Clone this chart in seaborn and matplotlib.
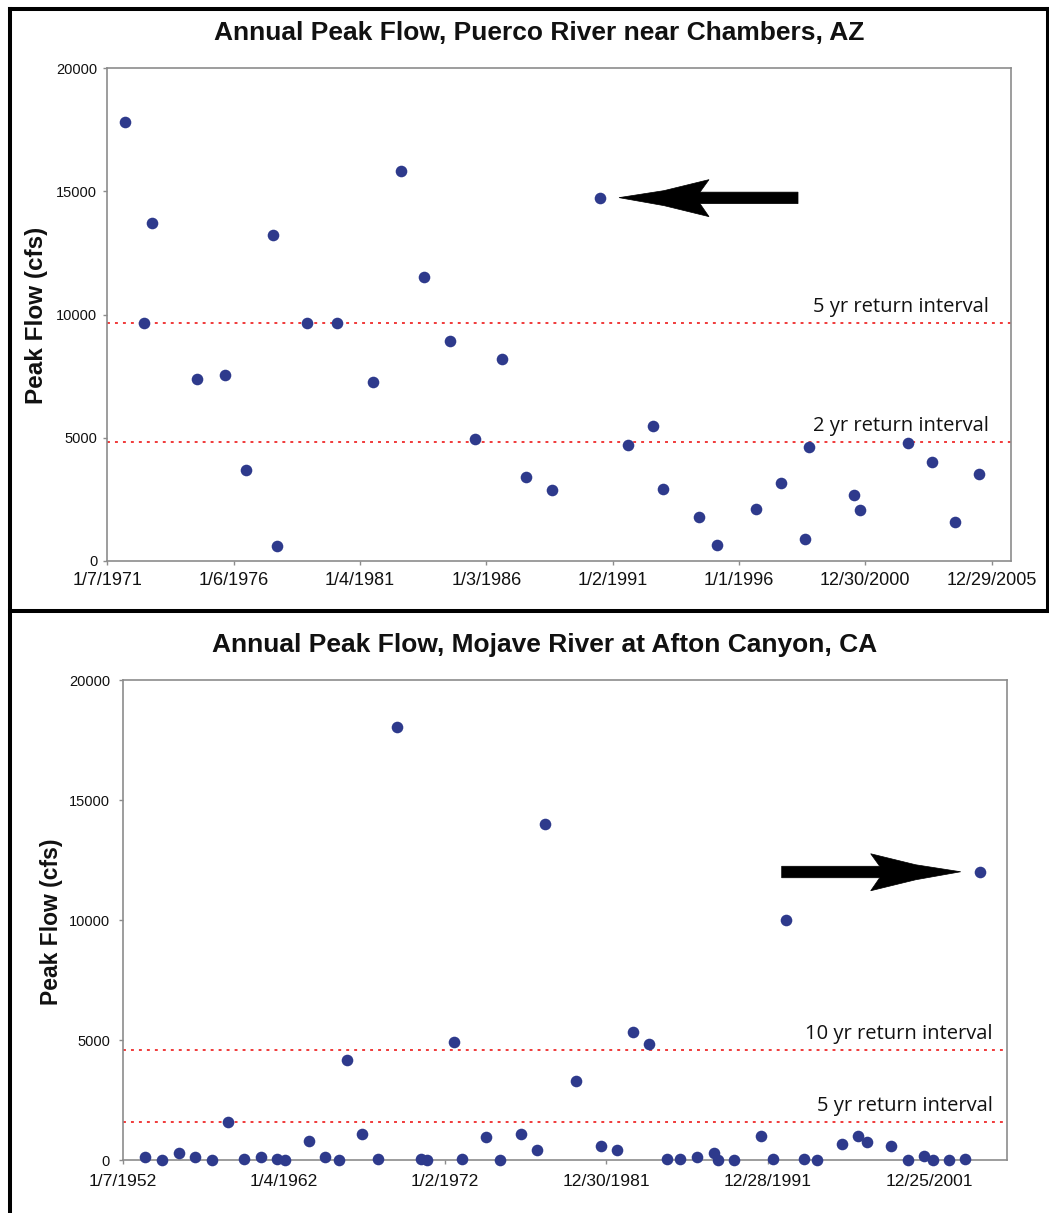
import numpy as np
import pandas as pd
import matplotlib
matplotlib.use("Agg")
import matplotlib.pyplot as plt
import matplotlib.dates as mdates
import matplotlib.transforms as mtransforms
from matplotlib.patches import Polygon
from matplotlib.lines import Line2D
import seaborn as sns

# ---------------- data ----------------
puerco_title = "Annual Peak Flow, Puerco River near Chambers, AZ"
puerco_dates = ["1971-09-20", "1972-06-16", "1972-10-09", "1974-07-21", "1975-08-30",
                "1976-07-03", "1977-07-24", "1977-09-20", "1978-12-06", "1980-02-04",
                "1981-07-08", "1982-08-17", "1983-07-24", "1984-07-25", "1985-07-25",
                "1986-08-14", "1987-07-27", "1988-08-09", "1990-07-04", "1991-08-11",
                "1992-08-11", "1992-12-25", "1994-05-28", "1995-02-21", "1996-08-29",
                "1997-08-30", "1998-08-13", "1998-10-10", "2000-07-25", "2000-10-11",
                "2002-09-04", "2003-08-17", "2004-07-23", "2005-07-04"]
puerco_flow = [17800, 9650, 13720, 7380, 7540,
               3690, 13240, 610, 9650, 9650,
               7280, 15830, 11540, 8950, 4940,
               8190, 3420, 2880, 14750, 4720,
               5480, 2940, 1800, 660, 2120,
               3150, 880, 4620, 2670, 2070,
               4780, 4020, 1580, 3530]
puerco_tick_dates = ["1971-01-07", "1976-01-06", "1981-01-04", "1986-01-03",
                     "1991-01-02", "1996-01-01", "2000-12-30", "2005-12-29"]
puerco_tick_labels = ["1/7/1971", "1/6/1976", "1/4/1981", "1/3/1986",
                      "1/2/1991", "1/1/1996", "12/30/2000", "12/29/2005"]
puerco_xmax = "2006-10-01"
puerco_ri_values = [9650, 4840]
puerco_ri_labels = ["5 yr return interval", "2 yr return interval"]
puerco_highlight = ("1990-07-04", 14750)

mojave_title = "Annual Peak Flow, Mojave River at Afton Canyon, CA"
mojave_dates = ["1953-06-01", "1954-06-29", "1955-07-19", "1956-06-23", "1957-07-21",
                "1958-07-19", "1959-07-08", "1960-08-05", "1961-08-02", "1962-02-06",
                "1963-07-29", "1964-07-26", "1965-06-14", "1965-12-12", "1966-11-18",
                "1967-11-08", "1969-01-04", "1970-06-24", "1970-11-07", "1972-07-28",
                "1973-01-26", "1974-07-24", "1975-05-21", "1976-09-16", "1977-09-07",
                "1978-03-07", "1980-02-08", "1981-08-28", "1982-09-01", "1983-08-23",
                "1984-08-20", "1985-10-09", "1986-07-17", "1987-08-12", "1988-08-31",
                "1988-12-06", "1989-11-20", "1991-07-24", "1992-04-21", "1993-02-17",
                "1994-03-16", "1995-01-05", "1996-08-10", "1997-08-07", "1998-02-28",
                "1999-08-26", "2000-08-30", "2001-08-22", "2002-03-30", "2003-03-18",
                "2004-03-15", "2005-02-11"]
mojave_flow = [110, 10, 290, 120, 10,
               1570, 60, 120, 60, 10,
               790, 120, 10, 4180, 1070,
               60, 18030, 60, 10, 4900,
               60, 960, 10, 1070, 400,
               14010, 3290, 570, 400, 5350,
               4850, 60, 60, 120, 290,
               10, 10, 1010, 60, 10010,
               60, 10, 680, 1010, 740,
               570, 10, 180, 10, 10,
               60, 12010]
mojave_tick_dates = ["1952-01-07", "1962-01-04", "1972-01-02",
                     "1981-12-30", "1991-12-28", "2001-12-25"]
mojave_tick_labels = ["1/7/1952", "1/4/1962", "1/2/1972",
                      "12/30/1981", "12/28/1991", "12/25/2001"]
mojave_xmax = "2006-10-15"
mojave_ri_values = [4580, 1570]
mojave_ri_labels = ["10 yr return interval", "5 yr return interval"]
mojave_highlight = ("2005-02-11", 12010)

y_ticks = [0, 5000, 10000, 15000, 20000]
y_label = "Peak Flow (cfs)"

# ---------------- style ----------------
sns.set_style("white")
plt.rcParams['font.family'] = ['Liberation Sans', 'DejaVu Sans']

DOT = "#2E3A8C"
RED = "#F03A3A"
GRAY = "#8C8C8C"

W, H = 1049, 1213
fig = plt.figure(figsize=(W / 100, H / 100), dpi=100)


def box(l, t, r, b):
    return [l / W, 1 - b / H, (r - l) / W, (b - t) / H]


ax1 = fig.add_axes(box(107.3, 68.3, 1010.7, 561))
ax2 = fig.add_axes(box(122.5, 680, 1006.7, 1160))

# arrow outline in pixels, relative to the highlighted point (arrow to the right, pointing left)
ARROW = np.array([(19, 0), (64, 7), (109, 18), (100, 5.5), (198, 5.5),
                  (198, -6), (100, -6), (109, -19), (64, -8)])


def panel(ax, dates, flows, tick_dates, tick_labels, xmax, ri_vals, ri_labels,
          ri_offset, highlight, arrow_side, xlab_size, xpad, ypad):
    df = pd.DataFrame({"date": pd.to_datetime(dates), "flow": flows})
    sns.scatterplot(data=df, x="date", y="flow", ax=ax, color=DOT, s=70,
                    linewidth=0, clip_on=False, zorder=5)
    ax.set_xlim(pd.Timestamp(tick_dates[0]), pd.Timestamp(xmax))
    ax.set_ylim(0, 20000)
    ax.set_yticks(y_ticks)
    ax.set_yticklabels([str(v) for v in y_ticks])
    ax.set_xticks(pd.to_datetime(tick_dates))
    ax.set_xticklabels(tick_labels)
    ax.set_xlabel("")
    ax.set_ylabel("")
    for s in ax.spines.values():
        s.set_visible(True)
        s.set_color(GRAY)
        s.set_linewidth(1.2)
    ax.tick_params(axis="both", direction="out", length=3, width=1, color=GRAY,
                   bottom=True, left=True)
    ax.tick_params(axis="x", labelsize=xlab_size, pad=xpad, labelcolor="#111111")
    ax.tick_params(axis="y", labelsize=10.5, pad=ypad, labelcolor="#111111")
    for v, lab in zip(ri_vals, ri_labels):
        ax.axhline(v, color=RED, lw=1.4, ls=(0, (1.5, 2.6)), zorder=2)
        ax.annotate(lab, xy=(1, v), xycoords=("axes fraction", "data"),
                    xytext=(ri_offset, 11), textcoords="offset pixels",
                    ha="right", va="baseline", fontsize=14.5,
                    family=["Open Sans", "DejaVu Sans"], color="#111111")
    hx = mdates.date2num(pd.Timestamp(highlight[0]))
    shape = ARROW * np.array([arrow_side, 1])
    tr = mtransforms.ScaledTranslation(hx, highlight[1], ax.transData)
    ax.add_patch(Polygon(shape, closed=True, facecolor="black", edgecolor="black",
                         lw=0.5, transform=tr, clip_on=False, zorder=6))


panel(ax1, puerco_dates, puerco_flow, puerco_tick_dates, puerco_tick_labels,
      puerco_xmax, puerco_ri_values, puerco_ri_labels, -22, puerco_highlight, 1,
      13, 5, 4.3)
panel(ax2, mojave_dates, mojave_flow, mojave_tick_dates, mojave_tick_labels,
      mojave_xmax, mojave_ri_values, mojave_ri_labels, -14, mojave_highlight, -1,
      12.6, 7, 6)

# titles and axis titles
fig.text(539 / W, 1 - 33 / H, puerco_title, ha="center", va="center",
         fontsize=19, fontweight="bold", color="#111111")
fig.text(545 / W, 1 - 645 / H, mojave_title, ha="center", va="center",
         fontsize=19, fontweight="bold", color="#111111")
fig.text(37 / W, 1 - 315 / H, y_label, rotation=90, ha="center", va="center",
         fontsize=17.5, fontweight="bold", color="#111111")
fig.text(52 / W, 1 - 922 / H, y_label, rotation=90, ha="center", va="center",
         fontsize=16.5, fontweight="bold", color="#111111")

# black frame lines around the panels
def fline(x0, y0, x1, y1):
    fig.add_artist(Line2D([x0 / W, x1 / W], [1 - y0 / H, 1 - y1 / H],
                          transform=fig.transFigure, color="black", lw=2.9,
                          solid_capstyle="projecting"))

fline(10, 8.5, 1049, 8.5)
fline(10, 8.5, 10, 1213)
fline(10, 611, 1049, 611)
fline(1047.5, 8.5, 1047.5, 611)

fig.savefig("out.png", dpi=100)
